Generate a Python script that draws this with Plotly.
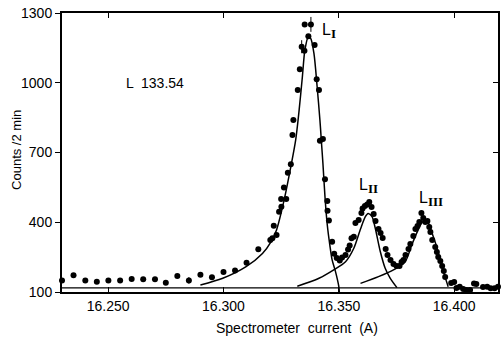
import plotly.graph_objects as go

# Measured spectrum: spectrometer current (A) vs counts per 2 min
current = [
    16.2300, 16.2350, 16.2401, 16.2451, 16.2501, 16.2552, 16.2602, 16.2652, 16.2703, 16.2750,
    16.2800, 16.2850, 16.2900, 16.2950, 16.3000, 16.3050, 16.3100, 16.3151, 16.3203, 16.3212,
    16.3218, 16.3230, 16.3241, 16.3250, 16.3251, 16.3262, 16.3272, 16.3279, 16.3292, 16.3299,
    16.3303, 16.3322, 16.3331, 16.3339, 16.3351, 16.3352, 16.3368, 16.3379, 16.3395, 16.3404,
    16.3414, 16.3418, 16.3431, 16.3440, 16.3450, 16.3451, 16.3457, 16.3471, 16.3480, 16.3491,
    16.3504, 16.3514, 16.3529, 16.3540, 16.3547, 16.3555, 16.3565, 16.3572, 16.3586, 16.3598,
    16.3603, 16.3613, 16.3623, 16.3632, 16.3642, 16.3651, 16.3659, 16.3672, 16.3681, 16.3690,
    16.3703, 16.3711, 16.3724, 16.3737, 16.3750, 16.3763, 16.3772, 16.3780, 16.3789, 16.3802,
    16.3810, 16.3823, 16.3832, 16.3841, 16.3849, 16.3858, 16.3866, 16.3875, 16.3884, 16.3892,
    16.3897, 16.3905, 16.3918, 16.3925, 16.3931, 16.3940, 16.3948, 16.3955, 16.3961, 16.3987,
    16.4000, 16.4010, 16.4024, 16.4039, 16.4053, 16.4069, 16.4086, 16.4096, 16.4125, 16.4143,
    16.4158, 16.4175, 16.4190,
]
counts = [
    149, 172, 150, 144, 150, 150, 156, 155, 155, 140,
    169, 150, 174, 163, 186, 192, 226, 284, 324, 331,
    385, 345, 445, 500, 467, 549, 500, 613, 649, 775,
    840, 969, 1058, 1155, 1138, 1251, 1200, 1251, 1162, 1015,
    969, 751, 758, 585, 491, 450, 407, 316, 264, 246,
    235, 248, 259, 283, 300, 331, 338, 397, 410, 440,
    459, 470, 476, 487, 466, 435, 405, 371, 354, 332,
    285, 259, 238, 220, 212, 212, 229, 238, 259, 285,
    306, 341, 371, 384, 401, 440, 418, 401, 405, 380,
    358, 324, 294, 272, 251, 233, 212, 190, 165, 139,
    143, 117, 123, 113, 109, 109, 137, 134, 122, 123,
    116, 116, 123,
]
# Statistical error bars shown on a few points
count_err = {16.2850: 14, 16.3339: 28, 16.3379: 32}

# Fitted line shapes for the three L lines
LI_x = [16.2900, 16.2997, 16.3098, 16.3169, 16.3206, 16.3230, 16.3263, 16.3292, 16.3313, 16.3328,
        16.3342, 16.3353, 16.3368, 16.3378, 16.3392, 16.3406, 16.3418, 16.3424, 16.3431, 16.3440,
        16.3450, 16.3461, 16.3471, 16.3485, 16.3500, 16.3502]
LI_y = [130, 159, 209, 266, 316, 367, 496, 639, 754, 883,
        1026, 1141, 1198, 1191, 1127, 983, 840, 754, 654, 510,
        388, 302, 238, 190, 123, 100]

LII_x = [16.3320, 16.3414, 16.3478, 16.3529, 16.3565, 16.3594, 16.3615, 16.3627, 16.3644, 16.3658,
         16.3680, 16.3701, 16.3723, 16.3752]
LII_y = [125, 159, 195, 230, 288, 371, 424, 438, 424, 374,
         273, 202, 159, 119]

LIII_x = [16.3594, 16.3672, 16.3737, 16.3787, 16.3816, 16.3837, 16.3859, 16.3871, 16.3888, 16.3902,
          16.3924, 16.3945, 16.3960, 16.3974]
LIII_y = [137, 166, 195, 229, 302, 352, 397, 408, 397, 359,
          295, 216, 166, 123]

# Line labels: (current, counts, roman numeral)
line_labels = [(16.3419, 1222, "I"), (16.3580, 555, "II"), (16.3838, 502, "III")]

background = 118
x_range = [16.2300, 16.4190]
y_range = [100, 1300]
x_ticks = [16.250, 16.300, 16.350, 16.400]
x_ticktext = ["16.250", "16.300", "16.350", "16.400"]
y_ticks = [100, 400, 700, 1000, 1300]

FONT = "Liberation Sans"
SERIF = "Liberation Serif"
INK = "black"

fig = go.Figure()

# Background level
fig.add_trace(go.Scatter(
    x=x_range, y=[background, background], mode="lines",
    line=dict(color=INK, width=1.2), hoverinfo="skip", showlegend=False, yaxis="y2",
))

for cx, cy in ((LI_x, LI_y), (LII_x, LII_y), (LIII_x, LIII_y)):
    fig.add_trace(go.Scatter(
        x=cx, y=cy, mode="lines",
        line=dict(color=INK, width=1.5, shape="spline", smoothing=0.8),
        showlegend=False,
    ))

fig.add_trace(go.Scatter(
    x=current, y=counts, mode="markers",
    marker=dict(color=INK, size=6),
    error_y=dict(type="data", array=[count_err.get(c, 0) for c in current],
                 color=INK, thickness=1, width=0),
    showlegend=False, cliponaxis=False,
))

annotations = [
    dict(x=16.2569, y=1000, xref="x", yref="y", text="L  133.54", showarrow=False,
         xanchor="left", yanchor="middle", font=dict(size=14, family=FONT, color=INK)),
    dict(x=0.539, y=-0.129, xref="paper", yref="paper", text="Spectrometer  current  (A)",
         showarrow=False, xanchor="center", yanchor="middle",
         font=dict(size=14, family=FONT, color=INK)),
    dict(x=-0.105, y=0.51, xref="paper", yref="paper", text="Counts /2 min", textangle=-90,
         showarrow=False, xanchor="center", yanchor="middle",
         font=dict(size=13, family=FONT, color=INK)),
]
for lx, ly, numeral in line_labels:
    annotations.append(dict(
        x=lx, y=ly, xref="x", yref="y", showarrow=False,
        text=f"L<sub><span style=\"font-family:'{SERIF}';font-weight:bold;font-size:13px\">{numeral}</span></sub>",
        xanchor="left", yanchor="middle", font=dict(size=16, family=FONT, color=INK),
    ))

fig.update_layout(
    width=502, height=339,
    margin=dict(l=62, r=2, t=13, b=47),
    paper_bgcolor="white", plot_bgcolor="white",
    font=dict(family=FONT, size=14, color=INK),
    annotations=annotations,
    xaxis=dict(
        range=x_range, tickvals=x_ticks, ticktext=x_ticktext,
        ticks="inside", ticklen=5, tickwidth=1, tickcolor=INK,
        showline=True, linewidth=2, linecolor=INK, mirror="ticks",
        showgrid=False, zeroline=False, tickfont=dict(size=14),
    ),
    yaxis=dict(
        range=y_range, tickvals=y_ticks,
        ticks="outside", ticklen=5, tickwidth=1, tickcolor=INK,
        showline=True, linewidth=2, linecolor=INK, mirror=True,
        showgrid=False, zeroline=False, tickfont=dict(size=14),
    ),
    yaxis2=dict(
        range=y_range, tickvals=y_ticks, overlaying="y", side="right",
        ticks="inside", ticklen=5, tickwidth=1, tickcolor=INK,
        showticklabels=False, showline=False, showgrid=False, zeroline=False,
    ),
)

fig.write_html("out.html")
